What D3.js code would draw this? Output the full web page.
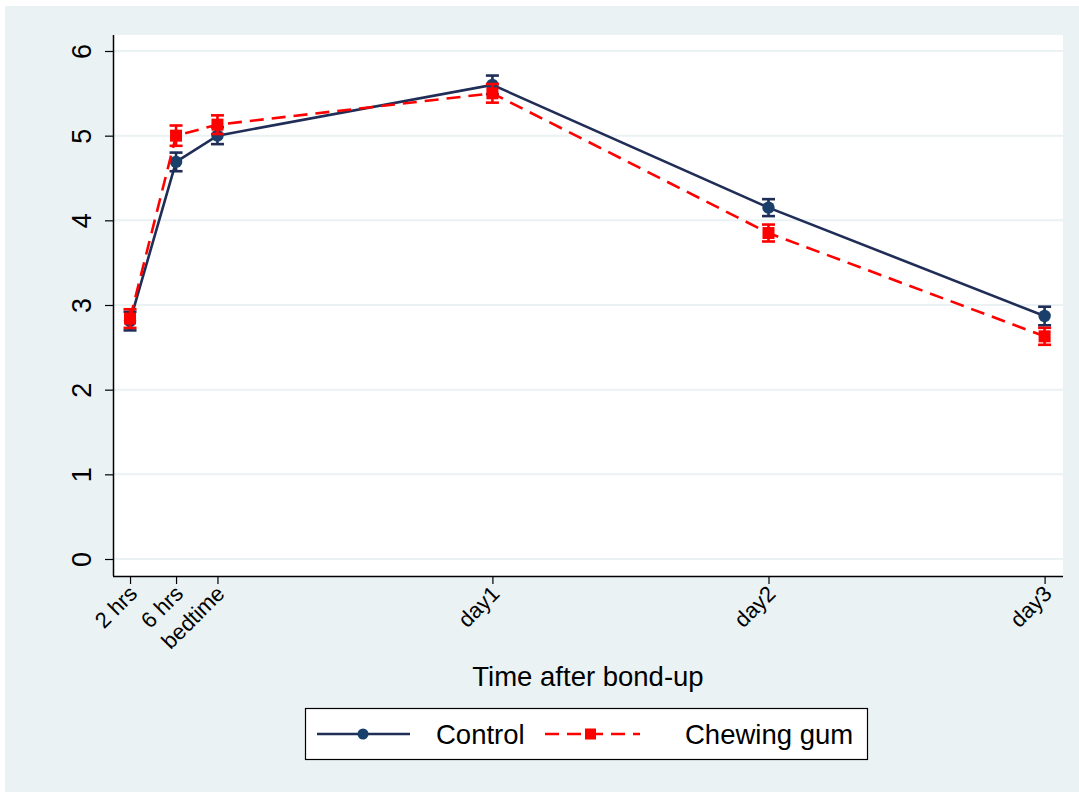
<!DOCTYPE html>
<html><head><meta charset="utf-8">
<script src="https://cdn.jsdelivr.net/npm/d3@7"></script>
<style>body{margin:0;background:#fff;}svg{display:block;font-family:"Liberation Sans",Arial,sans-serif;}</style>
</head><body><svg id="c" width="1079" height="792"></svg>
<script>
const categories = ["2 hrs", "6 hrs", "bedtime", "day1", "day2", "day3"];
const timeHours = [2, 6, 9.6, 33.5, 57.5, 81.5];
const controlMean = [2.81, 4.69, 5.0, 5.6, 4.15, 2.87];
const controlErr = [0.11, 0.11, 0.1, 0.11, 0.1, 0.11];
const gumMean = [2.84, 5.0, 5.13, 5.5, 3.85, 2.63];
const gumErr = [0.11, 0.12, 0.11, 0.11, 0.1, 0.1];
const yTicks = [0, 1, 2, 3, 4, 5, 6];
const seriesNames = ["Control", "Chewing gum"];

const svg = d3.select("#c");
svg.append("rect").attr("x",5).attr("y",6).attr("width",1074).attr("height",786).attr("fill","#eaf2f3");
const L=113,R=1063,T=35,B=576;
svg.append("rect").attr("x",L).attr("y",T).attr("width",R-L).attr("height",B-T).attr("fill","#fff");
const x = d3.scaleLinear().domain([0.52, 83.1]).range([L, R]);
const y = d3.scaleLinear().domain([0, 6]).range([559, 51]);

// grid
svg.append("g").selectAll("line").data(yTicks).join("line")
  .attr("x1",L).attr("x2",R).attr("y1",d=>y(d)).attr("y2",d=>y(d))
  .attr("stroke","#eaf2f3").attr("stroke-width",2);

// y axis
const ya = svg.append("g").attr("transform",`translate(${L},0)`)
  .call(d3.axisLeft(y).tickValues(yTicks).tickSize(8).tickPadding(0).tickFormat(d3.format("d")));
ya.select(".domain").attr("d",`M0.5,${T}V${B}`).attr("stroke","#000").attr("stroke-width",1.5);
ya.selectAll(".tick line").attr("stroke","#000").attr("stroke-width",1.2);
ya.selectAll(".tick text").style("font-size","27px").attr("fill","#000")
  .attr("transform","translate(-31,0) rotate(-90)").attr("text-anchor","middle").attr("dy","0.35em").attr("x",0);

// x axis
const xa = svg.append("g").attr("transform",`translate(0,${B})`)
  .call(d3.axisBottom(x).tickValues(timeHours).tickSize(8).tickFormat((d,i)=>categories[i]));
xa.select(".domain").attr("d",`M${L},0.5H${R}`).attr("stroke","#000").attr("stroke-width",1.5);
xa.selectAll(".tick line").attr("stroke","#000").attr("stroke-width",1.2);
xa.selectAll(".tick text").style("font-size","22px").attr("fill","#000")
  .attr("text-anchor","end").attr("y",0).attr("dy",0)
  .attr("transform","translate(8,19) rotate(-45)");

svg.append("text").attr("x",588).attr("y",686).attr("text-anchor","middle")
  .style("font-size","27.5px").attr("fill","#000").text("Time after bond-up");

const navyLine="#1f2d57", navyMk="#1a3f6a", red="#ff0000";
const line = d3.line().x(d=>x(d[0])).y(d=>y(d[1]));
function drawSeries(mean, err, color, mkColor, dash, square){
  const pts = timeHours.map((t,i)=>[t,mean[i],err[i]]);
  svg.append("path").datum(pts).attr("d",line).attr("fill","none")
    .attr("stroke",color).attr("stroke-width",2.6).attr("stroke-dasharray",dash);
  const g = svg.append("g");
  pts.forEach(p=>{
    const cx=x(p[0]), y1=y(p[1]-p[2]), y2=y(p[1]+p[2]);
    g.append("line").attr("x1",cx).attr("x2",cx).attr("y1",y1).attr("y2",y2).attr("stroke",color).attr("stroke-width",2.6);
    [y1,y2].forEach(yy=>g.append("line").attr("x1",cx-6.5).attr("x2",cx+6.5).attr("y1",yy).attr("y2",yy).attr("stroke",color).attr("stroke-width",2.6));
    if(square) g.append("rect").attr("x",cx-6).attr("y",y(p[1])-6).attr("width",12).attr("height",12).attr("fill",mkColor);
    else g.append("circle").attr("cx",cx).attr("cy",y(p[1])).attr("r",6.2).attr("fill",mkColor);
  });
}
drawSeries(controlMean, controlErr, navyLine, navyMk, null, false);
drawSeries(gumMean, gumErr, red, red, "14,8", true);

// legend
const lg = svg.append("g");
lg.append("rect").attr("x",305.5).attr("y",708.5).attr("width",562).attr("height",51).attr("fill","#fff").attr("stroke","#000").attr("stroke-width",1.2);
lg.append("line").attr("x1",317).attr("x2",410).attr("y1",734).attr("y2",734).attr("stroke",navyLine).attr("stroke-width",2.6);
lg.append("circle").attr("cx",363).attr("cy",734).attr("r",5.5).attr("fill",navyMk);
lg.append("text").attr("x",436).attr("y",744).style("font-size","27.5px").attr("fill","#000").text(seriesNames[0]);
lg.append("line").attr("x1",545).attr("x2",640).attr("y1",734).attr("y2",734).attr("stroke",red).attr("stroke-width",2.6).attr("stroke-dasharray","14,8");
lg.append("rect").attr("x",585).attr("y",728.5).attr("width",11).attr("height",11).attr("fill",red);
lg.append("text").attr("x",685).attr("y",744).style("font-size","27.5px").attr("fill","#000").text(seriesNames[1]);
</script></body></html>
